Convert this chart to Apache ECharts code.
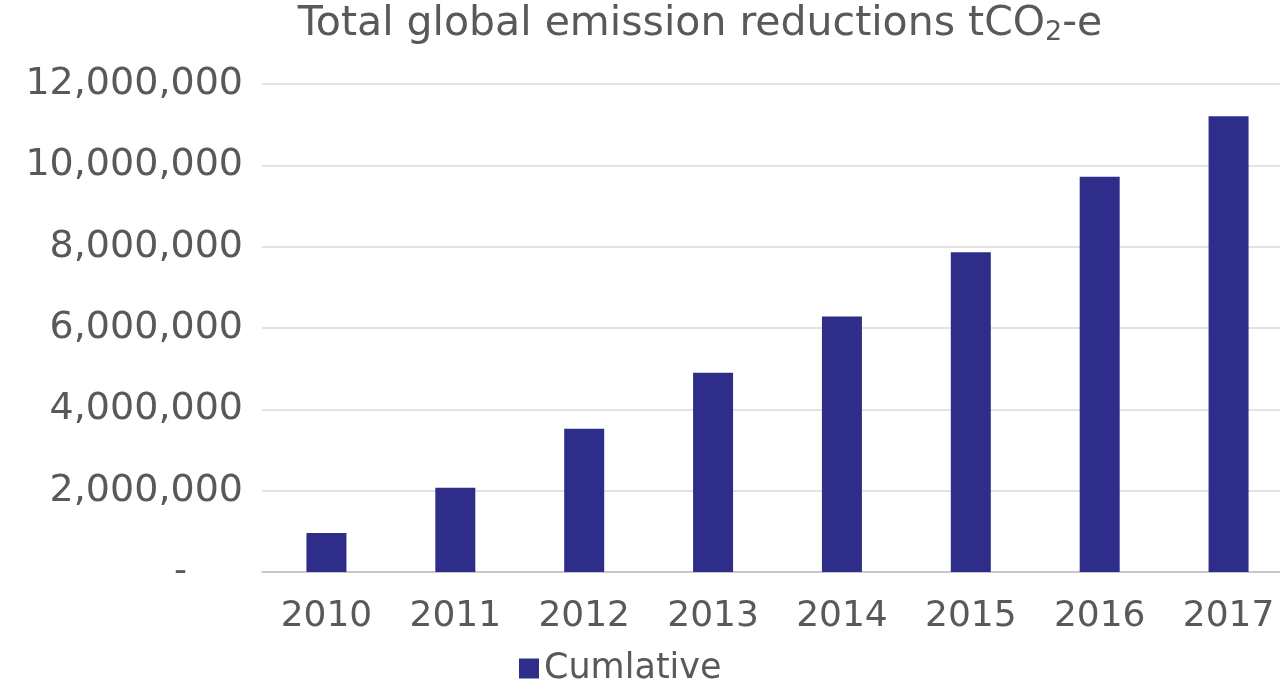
<!DOCTYPE html>
<html>
<head>
<meta charset="utf-8">
<script src="https://cdn.jsdelivr.net/npm/echarts@6/dist/echarts.min.js"></script>
<style>
html,body{margin:0;padding:0;background:#fff;overflow:hidden;}
#chart{width:1293px;height:685px;}
</style>
</head>
<body>
<div id="chart"></div>
<script>
const categories = ['2010','2011','2012','2013','2014','2015','2016','2017'];
const cumulative = [960000, 2070000, 3520000, 4900000, 6280000, 7860000, 9720000, 11210000];
const seriesName = 'Cumlative';
const yTicks = { min: 0, max: 12000000, interval: 2000000 };

const FONT = 'DejaVu Sans';
const TXT = '#595959';
const chart = echarts.init(document.getElementById('chart'));
chart.setOption({
  animation: false,
  backgroundColor: '#fff',
  title: {
    text: 'Total global emission reductions tCO{sub|2}-e',
    left: 695, top: -2, textAlign: 'center',
    textStyle: {
      fontFamily: FONT, fontSize: 41, fontWeight: 'normal', color: TXT,
      rich: { sub: { fontFamily: FONT, fontSize: 27, color: TXT, verticalAlign: 'bottom', padding: [16, 0, 0, 0] } }
    }
  },
  legend: {
    data: [seriesName],
    left: 514, bottom: -6,
    itemWidth: 20, itemHeight: 20, icon: 'rect', itemGap: 6,
    textStyle: { fontFamily: FONT, fontSize: 35, color: TXT }
  },
  grid: { left: 262, right: 0, top: 84, bottom: 113, containLabel: false },
  xAxis: {
    type: 'category', data: categories,
    axisTick: { show: false },
    axisLine: { lineStyle: { color: '#BFBFBF', width: 1.5 } },
    axisLabel: { fontFamily: FONT, fontSize: 36, color: TXT, margin: 27 }
  },
  yAxis: {
    type: 'value', min: yTicks.min, max: yTicks.max, interval: yTicks.interval,
    axisLine: { show: false }, axisTick: { show: false },
    splitLine: { lineStyle: { color: '#D9D9D9', width: 1.5 } },
    axisLabel: {
      fontFamily: FONT, fontSize: 38, color: TXT, margin: 19,
      formatter: v => v === 0 ? '{d|-}' : v.toLocaleString('en-US'),
      rich: { d: { fontFamily: FONT, fontSize: 36, color: TXT, padding: [0, 56, 0, 0] } }
    }
  },
  series: [{
    name: seriesName, type: 'bar', data: cumulative,
    barWidth: 40,
    itemStyle: { color: '#2E2E8A' }
  }]
});
</script>
</body>
</html>
